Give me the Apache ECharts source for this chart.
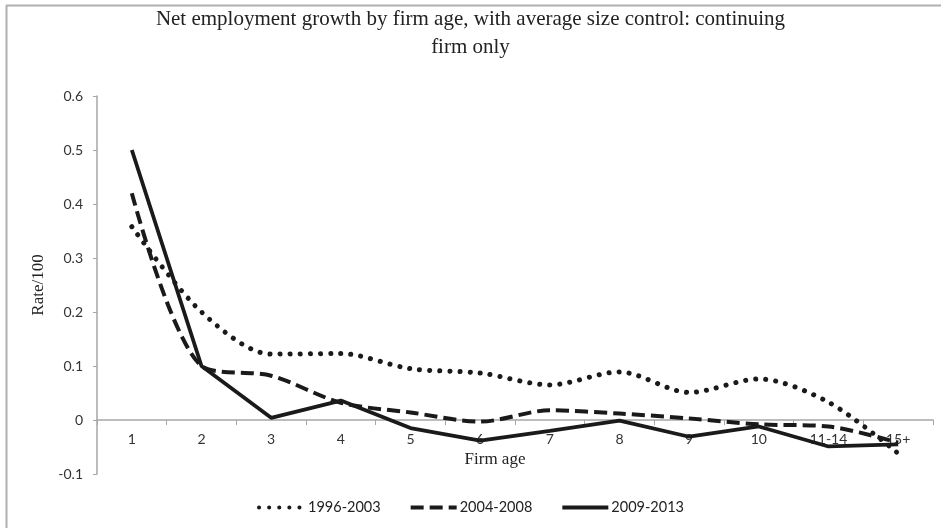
<!DOCTYPE html>
<html>
<head>
<meta charset="utf-8">
<script src="https://cdn.jsdelivr.net/npm/echarts@6/dist/echarts.min.js"></script>
<style>
html,body{margin:0;padding:0;background:#fff;}
#chart{width:941px;height:528px;}
</style>
</head>
<body>
<div id="chart"></div>
<script>
const categories = ['1','2','3','4','5','6','7','8','9','10','11-14','15+'];
const seriesNames = ['1996-2003','2004-2008','2009-2013'];
const s1996 = [0.358, 0.20, 0.122, 0.123, 0.095, 0.087, 0.065, 0.089, 0.051, 0.076, 0.033, -0.062];
const s2004 = [0.42, 0.10, 0.082, 0.032, 0.014, -0.003, 0.018, 0.012, 0.003, -0.008, -0.012, -0.042];
const s2009 = [0.50, 0.10, 0.004, 0.036, -0.015, -0.038, -0.02, -0.001, -0.031, -0.012, -0.049, -0.045];
const yTicks = [-0.1, 0, 0.1, 0.2, 0.3, 0.4, 0.5, 0.6];

const chart = echarts.init(document.getElementById('chart'), null, {renderer:'canvas'});
const serif = '"Liberation Serif", "DejaVu Serif", serif';
const sans = 'Lato, "Open Sans", sans-serif';
const ink = '#1a1a1a';

chart.setOption({
  animation:false,
  backgroundColor:'#fff',
  title:{
    text:'Net employment growth by firm age, with average size control: continuing\nfirm only',
    left:'center', top:0,
    textStyle:{fontFamily:serif, fontSize:21, fontWeight:'normal', color:'#222', lineHeight:28}
  },
  legend:{
    bottom:8, left:'center', itemWidth:46, itemHeight:14, itemGap:28,
    itemStyle:{opacity:0},
    lineStyle:{width:4},
    textStyle:{fontFamily:sans, fontSize:14.5, color:'#222', padding:[0,0,0,-2]},
    data:seriesNames
  },
  grid:{left:97, right:8, top:96, bottom:54, containLabel:false},
  xAxis:{
    type:'category', data:categories, boundaryGap:true, offset:-54,
    name:'Firm age', nameLocation:'middle', nameGap:31,
    nameTextStyle:{fontFamily:serif, fontSize:17, color:'#222', padding:[0,40,0,0]},
    axisLine:{onZero:false, lineStyle:{color:'#a6a6a6', width:1.5}},
    axisTick:{show:true, length:5, lineStyle:{color:'#a6a6a6'}},
    axisLabel:{fontFamily:sans, fontSize:14, color:'#333', margin:12}
  },
  yAxis:{
    type:'value', min:-0.1, max:0.6, interval:0.1,
    name:'Rate/100', nameLocation:'middle', nameGap:50,
    nameTextStyle:{fontFamily:serif, fontSize:17, color:'#222'},
    axisLine:{show:true, lineStyle:{color:'#a6a6a6', width:1.5}},
    axisTick:{show:true, length:4, lineStyle:{color:'#a6a6a6'}},
    splitLine:{show:false},
    axisLabel:{fontFamily:sans, fontSize:14, color:'#333', margin:14,
      formatter:v=>{const t=yTicks.find(x=>Math.abs(x-v)<1e-9); return t===undefined? '' : String(t);}}
  },
  series:[
    {name:seriesNames[0], type:'line', data:s1996, smooth:0.3, symbol:'none',
     lineStyle:{color:ink, width:5, type:[0.1,10], cap:'round'}, itemStyle:{color:ink}, z:3},
    {name:seriesNames[1], type:'line', data:s2004, smooth:0.3, symbol:'none',
     lineStyle:{color:ink, width:4, type:[13,6], cap:'butt'}, itemStyle:{color:ink}, z:4},
    {name:seriesNames[2], type:'line', data:s2009, smooth:false, symbol:'none',
     lineStyle:{color:ink, width:3.8, type:'solid'}, itemStyle:{color:ink}, z:5}
  ],
  graphic:[
    {type:'line', shape:{x1:6.5, y1:5, x2:6.5, y2:528}, style:{stroke:'#b0b0b0', lineWidth:2}, silent:true},
    {type:'line', shape:{x1:6, y1:5.5, x2:941, y2:5.5}, style:{stroke:'#b0b0b0', lineWidth:2}, silent:true}
  ]
});
</script>
</body>
</html>
